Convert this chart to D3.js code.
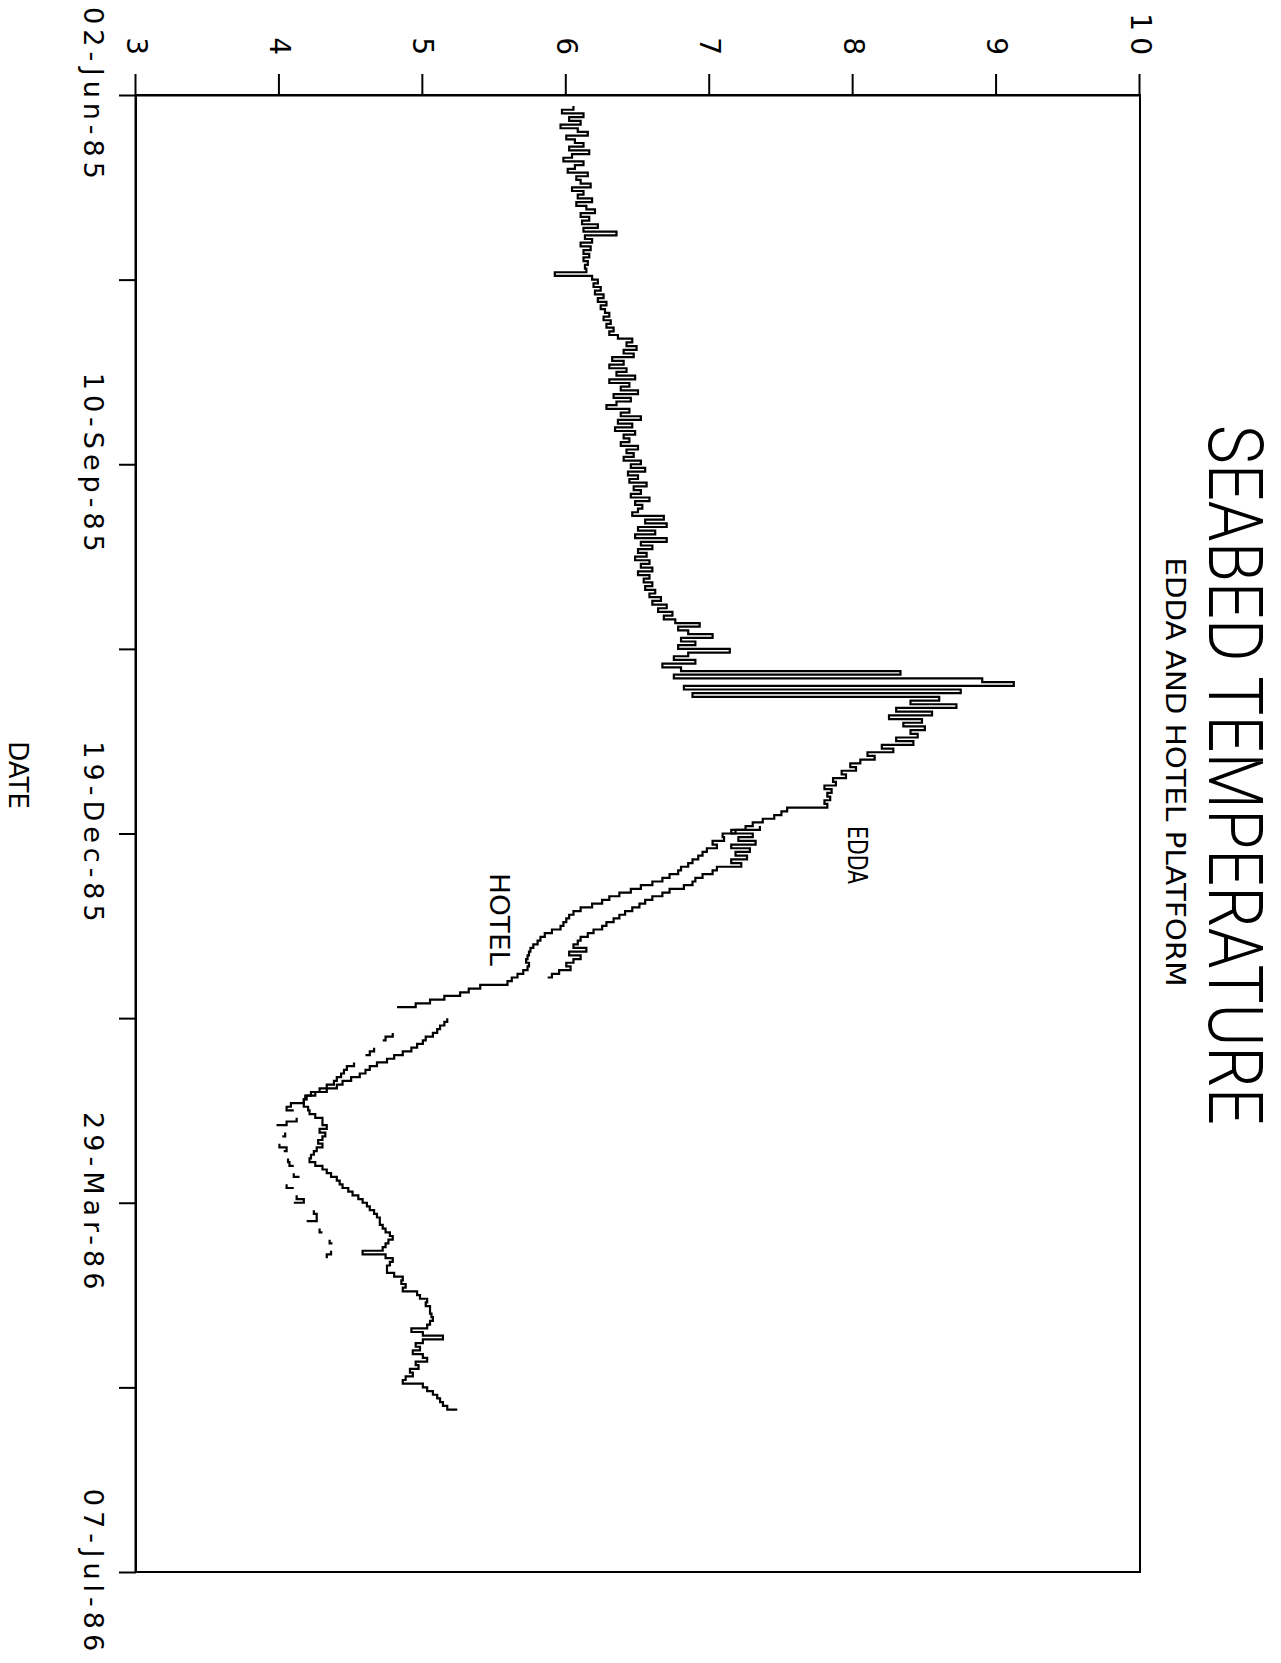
<!DOCTYPE html>
<html>
<head>
<meta charset="utf-8">
<script src="https://cdn.jsdelivr.net/npm/d3@7"></script>
<style>
  body { margin: 0; background: #fff; }
  svg { display: block; }
</style>
</head>
<body>
<div id="chart"></div>
<script>
// Seabed temperature, Edda and Hotel platforms.
// The plotter sheet is drawn in landscape and then turned 90deg clockwise onto the page.

// date axis: a tick every 50 days, label on every other one
const startDate = new Date(1985, 5, 2);
const endDate = new Date(1986, 6, 7);
const tickDates = [
    new Date(1985, 5, 2), new Date(1985, 6, 22), new Date(1985, 8, 10),
    new Date(1985, 9, 30), new Date(1985, 11, 19), new Date(1986, 1, 7),
    new Date(1986, 2, 29), new Date(1986, 4, 18), new Date(1986, 6, 7)
];
const dateLabels = ["02-Jun-85", "", "10-Sep-85", "", "19-Dec-85", "", "29-Mar-86", "", "07-Jul-86"];

// temperature axis
const tempTicks = [3, 4, 5, 6, 7, 8, 9, 10];

// daily readings; null = no data that day
const hotelStart = new Date(1985, 5, 5);
const hotelTemp = [
    6.05, 5.97, 6.12, 6.02, 6.10, 5.96, 6.08, 6.15, 6.00, 6.06,
    6.12, 6.02, 6.16, 6.04, 5.98, 6.12, 6.06, 6.01, 6.15, 6.07,
    6.10, 6.17, 6.04, 6.12, 6.08, 6.18, 6.07, 6.14, 6.20, 6.10,
    6.16, 6.11, 6.22, 6.12, 6.35, 6.13, 6.18, 6.10, 6.17, 6.12,
    6.16, 6.12, 6.15, 6.13, 6.14, 5.92, 6.18, 6.22, 6.19, 6.24,
    6.20, 6.26, 6.22, 6.28, 6.24, 6.27, 6.30, 6.26, 6.31, 6.28,
    6.33, 6.30, 6.36, 6.46, 6.42, 6.49, 6.40, 6.47, 6.32, 6.40,
    6.30, 6.42, 6.35, 6.48, 6.30, 6.44, 6.38, 6.50, 6.33, 6.45,
    6.35, 6.28, 6.44, 6.38, 6.52, 6.36, 6.46, 6.34, 6.48, 6.40,
    6.44, 6.38, 6.50, 6.42, 6.47, 6.40, 6.52, 6.45, 6.55, 6.43,
    6.50, 6.44, 6.56, 6.47, 6.52, 6.45, 6.58, 6.48, 6.53, 6.50,
    6.46, 6.68, 6.55, 6.70, 6.50, 6.62, 6.48, 6.70, 6.52, 6.60,
    6.50, 6.56, 6.48, 6.58, 6.52, 6.60, 6.50, 6.58, 6.54, 6.60,
    6.55, 6.62, 6.58, 6.66, 6.60, 6.70, 6.64, 6.74, 6.68, 6.76,
    6.93, 6.78, 6.85, 7.02, 6.80, 6.90, 6.78, 7.14, 6.85, 6.75,
    6.90, 6.67, 6.80, 8.33, 6.75, 8.90, 9.12, 6.82, 8.75, 6.88,
    8.60, 8.40, 8.72, 8.30, 8.55, 8.25, 8.48, 8.35, 8.50, 8.40,
    8.45, 8.30, 8.42, 8.20, 8.28, 8.10, 8.15, 8.05, 7.98, 8.02,
    7.92, 7.95, 7.86, 7.88, 7.80, 7.85, 7.82, 7.84, 7.80, 7.82,
    7.54, 7.50, 7.45, 7.37, 7.30, 7.25, 7.18, 7.09, 7.10, 7.02,
    7.05, 6.98, 6.95, 6.92, 6.88, 6.85, 6.80, 6.78, 6.72, 6.67,
    6.60, 6.52, 6.45, 6.37, 6.30, 6.25, 6.18, 6.10, 6.05, 6.02,
    6.00, 5.98, 5.96, 5.90, 5.85, 5.82, 5.80, 5.77, 5.75, 5.74,
    5.73, 5.72, 5.74, 5.73, 5.70, 5.66, 5.62, 5.59, 5.40, 5.32,
    5.26, 5.15, 5.05, 4.95, 4.82, null, null, null, null, null,
    null, 4.79, 4.74, 4.72, null, 4.66, 4.63, 4.60, null, 4.52,
    4.47, 4.45, 4.43, 4.40, 4.38, 4.33, 4.28, 4.22, 4.18, 4.17,
    4.08, 4.05, 4.10, null, 4.12, 4.05, 3.98, null, 4.04, 4.02,
    null, 4.00, 4.05, 4.03, null, 4.06, 4.07, 4.10, null, 4.10,
    4.14, null, 4.05, 4.10, null, 4.12, 4.17, 4.10, null, 4.24,
    4.26, 4.26, 4.19, null, 4.28, 4.30, null, 4.35, 4.37, null,
    4.36, 4.33, 4.33
];

const eddaStart = new Date(1985, 11, 17);
const eddaTemp = [
    7.35, 7.15, 7.30, 7.20, 7.32, 7.15, 7.28, 7.18, 7.26, 7.15,
    7.22, 7.05, 7.02, 6.95, 6.90, 6.88, 6.82, 6.72, 6.67, 6.60,
    6.55, 6.51, 6.46, 6.41, 6.37, 6.33, 6.28, 6.25, 6.19, 6.15,
    6.10, 6.08, 6.05, 6.14, 6.02, 6.10, 6.05, 6.00, 6.03, 5.95,
    5.90, 5.87, null, null, null, null, null, null, null, null,
    null, null, 5.17, 5.15, 5.12, 5.10, 5.07, 5.02, 5.00, 4.96,
    4.92, 4.86, 4.80, 4.75, 4.68, 4.63, 4.60, 4.56, 4.50, 4.44,
    4.40, 4.33, 4.25, 4.19, 4.17, 4.17, 4.20, 4.21, 4.25, 4.30,
    4.30, 4.33, 4.28, 4.32, 4.30, 4.27, 4.30, 4.26, 4.24, 4.22,
    4.21, 4.25, 4.30, 4.33, 4.36, 4.40, 4.42, 4.44, 4.48, 4.51,
    4.55, 4.58, 4.61, 4.63, 4.66, 4.68, 4.70, 4.70, 4.72, 4.74,
    4.77, 4.79, 4.76, 4.74, 4.72, 4.58, 4.74, 4.79, 4.77, 4.75,
    4.75, 4.80, 4.86, 4.85, 4.88, 4.86, 4.96, 4.98, 5.03, 5.02,
    5.05, 5.05, 5.06, 5.07, 5.05, 5.03, 4.92, 5.00, 5.14, 5.00,
    4.95, 4.98, 4.93, 5.00, 5.03, 4.95, 4.97, 4.91, 4.93, 4.88,
    4.86, 5.00, 5.03, 5.07, 5.10, 5.12, 5.14, 5.17, 5.24
];

const pageW = 1281, pageH = 1663;
const font = "'DejaVu Sans', sans-serif";

const svg = d3.select("#chart").append("svg")
    .attr("width", pageW)
    .attr("height", pageH);

// landscape sheet, turned clockwise
const g = svg.append("g")
    .attr("transform", `translate(${pageW},0) rotate(90)`);

const x = d3.scaleTime()
    .domain([startDate, endDate])
    .range([95, 1572]);

const y = d3.scaleLinear()
    .domain([3, 10])
    .range([1145, 141]);

function toPoints(start, values) {
    return values.map((v, i) => ({ date: d3.timeDay.offset(start, i), temp: v }));
}

// frame
g.append("rect")
    .attr("x", x.range()[0])
    .attr("y", y.range()[1])
    .attr("width", x.range()[1] - x.range()[0])
    .attr("height", y.range()[0] - y.range()[1])
    .attr("fill", "none")
    .attr("stroke", "#000")
    .attr("stroke-width", 2);

// date axis
const xAxis = g.append("g")
    .attr("transform", `translate(0,${y(3)})`)
    .call(d3.axisBottom(x)
        .tickValues(tickDates)
        .tickFormat((d, i) => dateLabels[i])
        .tickSize(17)
        .tickPadding(16)
        .tickSizeOuter(0));

// temperature axis
const yAxis = g.append("g")
    .attr("transform", `translate(${x(startDate)},0)`)
    .call(d3.axisLeft(y)
        .tickValues(tempTicks)
        .tickFormat(d3.format("d"))
        .tickSize(21)
        .tickPadding(13)
        .tickSizeOuter(0));

[xAxis, yAxis].forEach(a => {
    a.selectAll("path, line").attr("stroke", "#000").attr("stroke-width", 2);
    a.selectAll("text").attr("fill", "#000").attr("font-family", font);
});
xAxis.selectAll("text").attr("font-size", 27).attr("letter-spacing", 5);
yAxis.selectAll("text").attr("font-size", 28).attr("letter-spacing", 6);

// the two temperature traces
const line = d3.line()
    .defined(d => d.temp !== null)
    .x(d => x(d.date))
    .y(d => y(d.temp))
    .curve(d3.curveStepAfter);

g.selectAll(".trace")
    .data([toPoints(hotelStart, hotelTemp), toPoints(eddaStart, eddaTemp)])
    .enter()
    .append("path")
    .attr("class", "trace")
    .attr("d", line)
    .attr("fill", "none")
    .attr("stroke", "#000")
    .attr("stroke-width", 2.2);

// titles
g.append("text")
    .attr("x", 775).attr("y", 72)
    .attr("text-anchor", "middle")
    .attr("font-family", "Roboto, " + font)
    .attr("font-weight", 300)
    .attr("font-size", 76)
    .attr("textLength", 700)
    .attr("lengthAdjust", "spacingAndGlyphs")
    .text("SEABED TEMPERATURE");

g.append("text")
    .attr("x", 772).attr("y", 115)
    .attr("text-anchor", "middle")
    .attr("font-family", font)
    .attr("font-size", 26)
    .attr("textLength", 429)
    .attr("lengthAdjust", "spacingAndGlyphs")
    .text("EDDA AND HOTEL PLATFORM");

g.append("text")
    .attr("x", 775).attr("y", 1272)
    .attr("text-anchor", "middle")
    .attr("font-family", font)
    .attr("font-size", 26)
    .text("DATE");

// series labels next to the traces
g.append("text")
    .attr("x", 826).attr("y", 433)
    .attr("font-family", font)
    .attr("font-size", 26)
    .attr("textLength", 58)
    .attr("lengthAdjust", "spacingAndGlyphs")
    .text("EDDA");

g.append("text")
    .attr("x", 873).attr("y", 791)
    .attr("font-family", font)
    .attr("font-size", 26)
    .attr("textLength", 93)
    .attr("lengthAdjust", "spacingAndGlyphs")
    .text("HOTEL");
</script>
</body>
</html>
